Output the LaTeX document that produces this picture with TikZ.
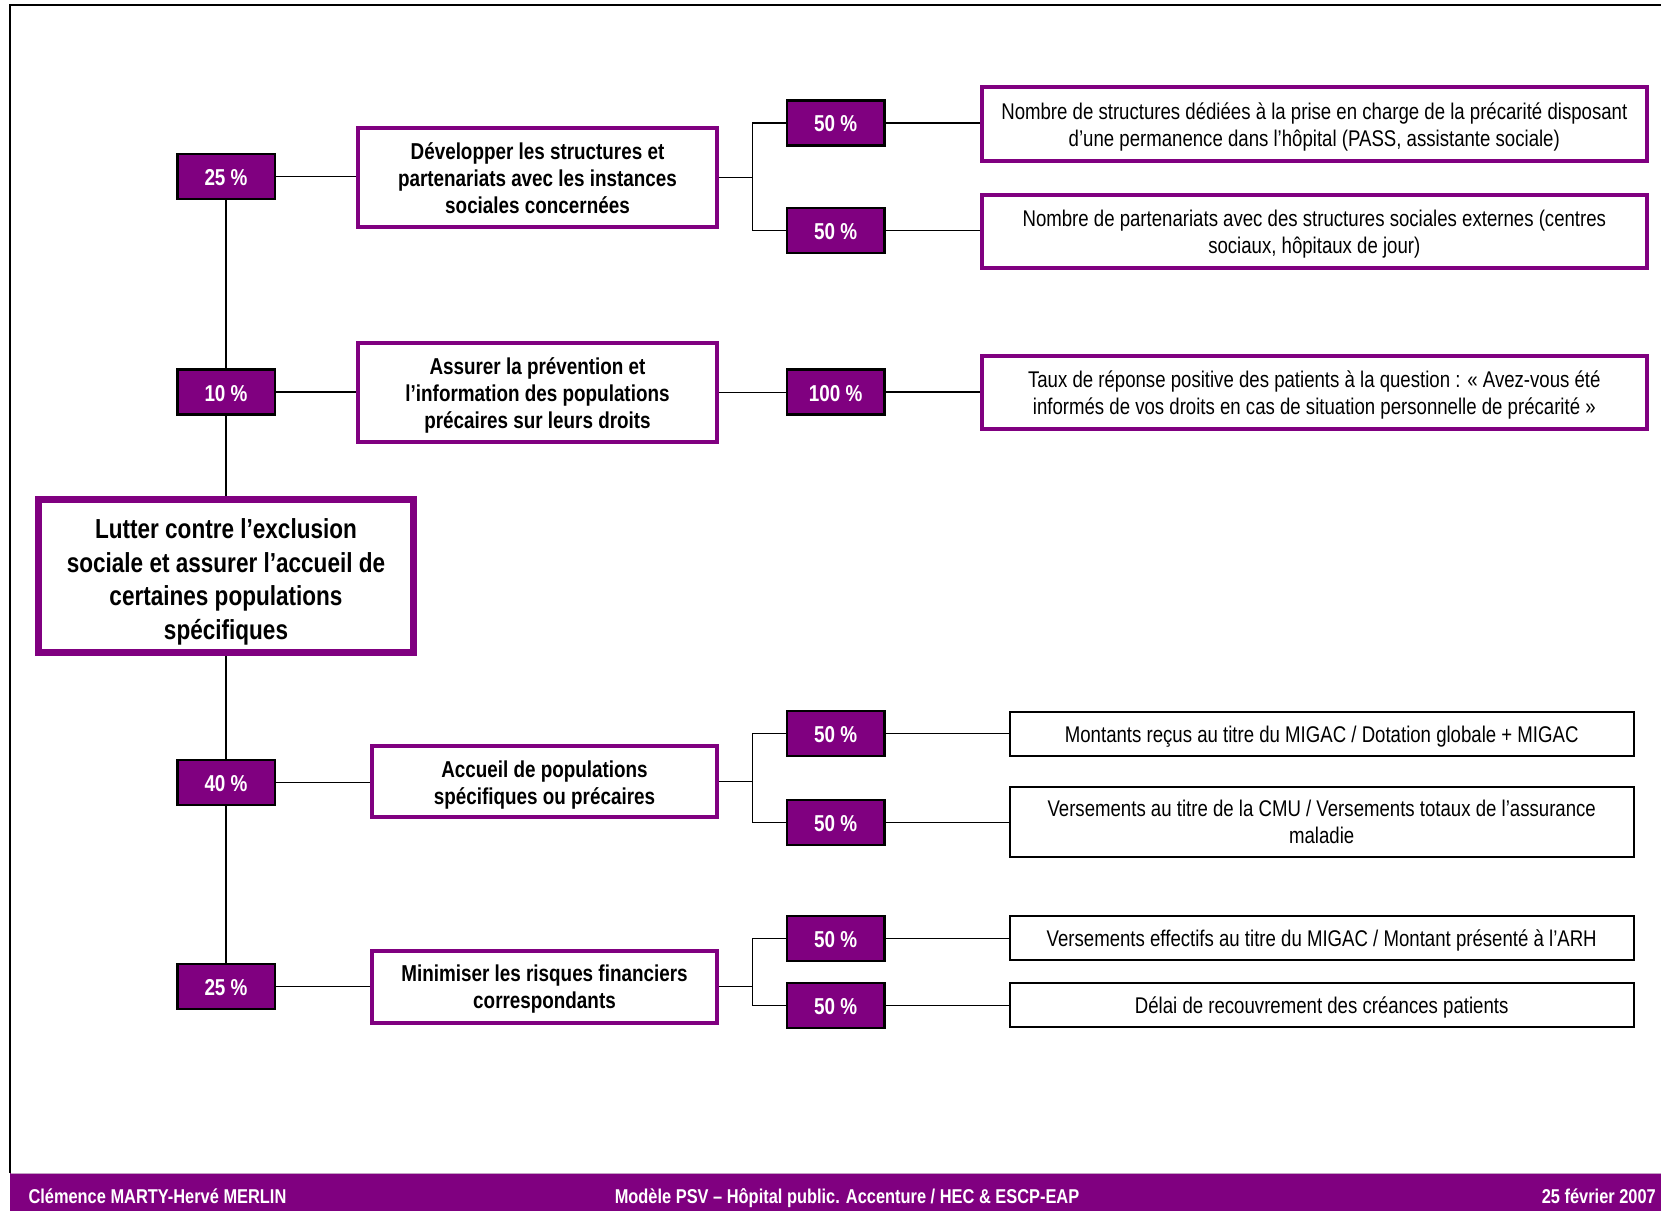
\documentclass[tikz,border=0pt]{standalone}
\usepackage{fontspec}
\newfontfamily\nar[FakeStretch=0.82]{Liberation Sans}
\definecolor{purp}{RGB}{128,0,128}
\definecolor{lav}{RGB}{196,160,196}

% centred block of lines, lowered by #1 pt inside its box
\newcommand\stacklines[2]{\raisebox{-#1pt}[\height][\depth]{\begin{tabular}{@{}c@{}}#2\end{tabular}}}

\tikzset{
  link/.style={draw=black, line width=1.5},
  lines/.style 2 args={execute at begin node={\rule{0pt}{#1pt}},
    execute at end node={\rule[-#2pt]{0pt}{0pt}}},
  wbox/.style={draw=black, fill=purp, line width=2.5, text=white, inner sep=0pt,
    minimum width=97.5, minimum height=45, lines={22.5}{4.9},
    font=\nar\bfseries\fontsize{23}{27}\selectfont},
  objbox/.style={draw=purp, fill=white, line width=4, inner sep=0pt,
    font=\nar\bfseries\fontsize{23}{27}\selectfont},
  mainbox/.style={draw=purp, fill=white, line width=7, inner sep=0pt,
    minimum width=375, minimum height=153,
    font=\nar\bfseries\fontsize{27.5}{33.5}\selectfont},
  indbox/.style={draw=purp, fill=white, line width=4, inner sep=0pt,
    minimum width=664.5, minimum height=73.4,
    font=\nar\fontsize{22.7}{26.7}\selectfont},
  ratiobox/.style={draw=black, fill=white, line width=2, inner sep=0pt, align=center,
    minimum width=624, lines={22.3}{4.8},
    font=\nar\fontsize{22.7}{26.7}\selectfont},
  foot/.style={text=white, inner sep=0pt, font=\nar\bfseries\fontsize{20}{24}\selectfont}
}

\begin{document}
\begin{tikzpicture}[x=1pt, y=-1pt]
\useasboundingbox (0,0) rectangle (1661,1211);

% page frame and footer band
\draw[line width=2.2] (10,1173) -- (10,5) -- (1661,5);
\fill[purp] (10,1172.7) rectangle (1661,1211);
\draw[lav, line width=1] (11,1173.2) -- (1661,1173.2);
\node[foot, anchor=base west] (fl) at (28.3,1203.3) {Clémence MARTY-Hervé MERLIN};
\node[foot, anchor=base] (fc) at (847,1203.3) {Modèle PSV – Hôpital public. Accenture / HEC \& ESCP-EAP};
\node[foot, anchor=base east] (fr) at (1656,1203.3) {25 février 2007};

% main objective
\node[mainbox] (main) at (226,576) {\stacklines{6.4}{Lutter contre l’exclusion\\sociale et assurer l’accueil de\\certaines populations\\spécifiques}};

% first level weights
\node[wbox] (w1) at (226,176.7) {25 \%};
\node[wbox] (w2) at (226,392.2) {10 \%};
\node[wbox] (w3) at (226,782.3) {40 \%};
\node[wbox] (w4) at (226,986.5) {25 \%};

% first level objectives
\node[objbox, minimum width=359, minimum height=99.3] (A) at (537.5,177.7) {\stacklines{3.4}{Développer les structures et\\partenariats avec les instances\\sociales concernées}};
\node[objbox, minimum width=359, minimum height=99] (B) at (537.5,392.5) {\stacklines{3.8}{Assurer la prévention et\\l’information des populations\\précaires sur leurs droits}};
\node[objbox, minimum width=345, minimum height=71.7] (D) at (544.5,781.5) {\stacklines{3.6}{Accueil de populations\\spécifiques ou précaires}};
\node[objbox, minimum width=345, minimum height=72] (E) at (544.5,986.6) {\stacklines{3.4}{Minimiser les risques financiers\\correspondants}};

% second level weights
\node[wbox] (p11) at (835.7,123) {50 \%};
\node[wbox] (p12) at (835.7,230.5) {50 \%};
\node[wbox] (p2)  at (835.7,392.2) {100 \%};
\node[wbox] (p31) at (835.7,733.7) {50 \%};
\node[wbox] (p32) at (835.7,822.3) {50 \%};
\node[wbox] (p41) at (835.7,938.3) {50 \%};
\node[wbox] (p42) at (835.7,1005.7) {50 \%};

% indicators
\node[indbox] (C1) at (1314.3,124) {\stacklines{3.4}{Nombre de structures dédiées à la prise en charge de la précarité disposant\\d’une permanence dans l’hôpital (PASS, assistante sociale)}};
\node[indbox] (C2) at (1314.3,231.3) {\stacklines{3.4}{Nombre de partenariats avec des structures sociales externes (centres\\sociaux, hôpitaux de jour)}};
\node[indbox] (C3) at (1314.3,392.5) {\stacklines{3.4}{Taux de réponse positive des patients à la question : « Avez-vous été\\informés de vos droits en cas de situation personnelle de précarité »}};
\node[ratiobox, minimum height=44] (F1) at (1321.7,733.7) {Montants reçus au titre du MIGAC / Dotation globale + MIGAC};
\node[ratiobox, minimum height=69.7, align=none] (F2) at (1321.7,821.8) {\stacklines{3}{Versements au titre de la CMU / Versements totaux de l’assurance\\maladie}};
\node[ratiobox, minimum height=43.7] (F3) at (1321.7,938.2) {Versements effectifs au titre du MIGAC / Montant présenté à l’ARH};
\node[ratiobox, minimum height=43.4] (F4) at (1321.7,1005) {Délai de recouvrement des créances patients};

% trunk
\draw[link] (w1) -- (w2);
\draw[link] (w2) -- (main);
\draw[link] (main) -- (w3);
\draw[link] (w3) -- (w4);

% weights to objectives
\draw[link] (w1.east) -- (w1.east -| A.west);
\draw[link] (w2.east) -- (w2.east -| B.west);
\draw[link] (w3.east) -- (w3.east -| D.west);
\draw[link] (w4.east) -- (w4.east -| E.west);

% objectives to second level weights
\coordinate (jA) at (752.5,177.7);
\coordinate (jD) at (752.5,781.5);
\coordinate (jE) at (752.5,986.6);
\draw[link] (A.east) -- (jA);
\draw[link] (p11.west) -| (jA) |- (p12.west);
\draw[link] (B.east) -- (B.east -| p2.west);
\draw[link] (D.east) -- (jD);
\draw[link] (p31.west) -| (jD) |- (p32.west);
\draw[link] (E.east) -- (jE);
\draw[link] (p41.west) -| (jE) |- (p42.west);

% weights to indicators
\draw[link] (p11.east) -- (p11.east -| C1.west);
\draw[link] (p12.east) -- (p12.east -| C2.west);
\draw[link] (p2.east) -- (p2.east -| C3.west);
\draw[link] (p31.east) -- (p31.east -| F1.west);
\draw[link] (p32.east) -- (p32.east -| F2.west);
\draw[link] (p41.east) -- (p41.east -| F3.west);
\draw[link] (p42.east) -- (p42.east -| F4.west);
\end{tikzpicture}
\end{document}
